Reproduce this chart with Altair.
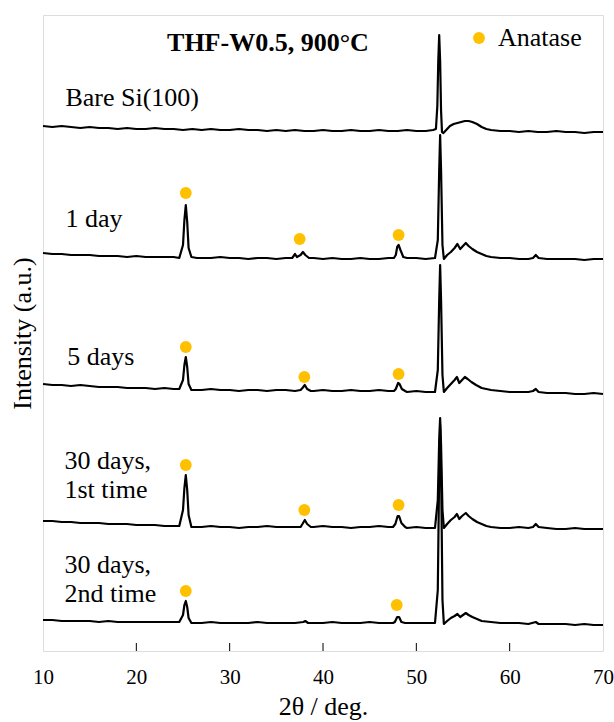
import altair as alt
import pandas as pd

# ---- traces: 2theta (deg) and stacked intensity (a.u.) ----
bare_x = [10, 11, 12, 13, 14, 15, 16, 17, 18, 19, 20, 21, 22, 23, 24, 25, 26, 27, 28, 29, 30,
          31, 32, 33, 34, 35, 36, 37, 38, 39, 40, 41, 42, 43, 44, 45, 46, 47, 48, 49, 50, 51,
          51.8, 52.1, 52.25, 52.35, 52.45, 52.55, 52.65, 52.75, 52.9, 53.2, 53.6, 54.0, 54.4,
          54.8, 55.2, 55.6, 56.0, 56.5, 57.0, 57.5, 58, 59, 60, 61, 62, 63, 64, 65, 66, 67, 68, 69, 70]
bare_y = [525, 524, 525, 524, 523, 524, 523, 523, 522, 523, 522, 522, 523, 522, 522, 521, 522, 521,
          522, 521, 521, 522, 521, 521, 520, 521, 520, 521, 520, 520, 521, 520, 520, 521, 520, 520,
          521, 520, 520, 521, 520, 520,
          521, 522, 545, 590, 616, 590, 540, 519, 518, 521, 525, 527, 528,
          529, 530, 530, 529, 527, 524, 522, 521, 520, 520, 519, 520, 519, 519, 520, 519, 519, 518, 519, 519]

day1_x = [10, 11, 12, 13, 14, 15, 16, 17, 18, 19, 20, 21, 22, 23, 24, 24.6, 25.0, 25.15, 25.3, 25.45,
          25.6, 25.9, 26.5, 27, 28, 29, 30, 31, 32, 33, 34, 35, 36, 36.7, 37.0, 37.2, 37.6, 37.85,
          38.1, 38.5, 39, 40, 41, 42, 43, 44, 45, 46, 47, 47.6, 47.8, 47.95, 48.1, 48.3, 48.6, 49,
          50, 51, 52.0, 52.3, 52.45, 52.55, 52.65, 52.8, 52.95, 53.3, 53.7, 54.1, 54.4, 54.7, 55.0,
          55.3, 55.6, 56.0, 56.5, 57, 57.5, 58, 59, 60, 61, 62, 62.5, 62.8, 63.1, 64, 65, 66, 67,
          68, 69, 70]
day1_y = [398, 397, 397, 396, 396, 396, 395, 395, 395, 394, 395, 394, 394, 394, 394, 393, 406, 431,
          446, 429, 403, 394, 393, 393, 393, 394, 393, 393, 392, 393, 393, 392, 393, 393, 397, 394,
          396, 399, 396, 393, 393, 392, 393, 392, 392, 393, 392, 392, 393, 393, 396, 404, 406, 401,
          394, 393, 393, 392, 393, 411, 481, 516, 481, 406, 392, 396, 399, 403, 407, 402, 405, 408,
          405, 402, 399, 397, 395, 394, 393, 393, 392, 392, 393, 396, 393, 392, 392, 392, 392, 391,
          392, 392]

day5_x = [10, 11, 12, 13, 14, 15, 16, 17, 18, 19, 20, 21, 22, 23, 24, 24.6, 25.0, 25.15, 25.3, 25.45,
          25.6, 25.9, 26.5, 27, 28, 29, 30, 31, 32, 33, 34, 35, 36, 37, 37.6, 37.8, 38.05, 38.3, 38.7,
          39, 40, 41, 42, 43, 44, 45, 46, 47, 47.6, 47.8, 48.05, 48.2, 48.45, 48.8, 49, 50, 51, 52,
          52.3, 52.45, 52.55, 52.65, 52.8, 52.95, 53.3, 53.7, 54.1, 54.35, 54.6, 54.9, 55.2, 55.5,
          55.9, 56.4, 57, 57.5, 58, 59, 60, 61, 62, 62.5, 62.8, 63.1, 64, 65, 66, 67, 68, 69, 70]
day5_y = [267, 266, 266, 265, 266, 265, 264, 264, 264, 263, 263, 263, 262, 263, 262, 262, 271, 286,
          294, 284, 267, 261, 261, 261, 262, 261, 261, 260, 261, 261, 260, 261, 261, 260, 261, 263,
          266, 262, 260, 260, 261, 260, 260, 261, 260, 260, 261, 260, 260, 262, 268, 267, 262, 260,
          259, 260, 259, 259, 281, 351, 386, 351, 276, 259, 263, 267, 271, 274, 268, 271, 274, 272,
          269, 266, 263, 262, 261, 260, 259, 259, 259, 260, 262, 259, 258, 258, 258, 257, 257, 258,
          257]

d30a_x = [10, 11, 12, 13, 14, 15, 16, 17, 18, 19, 20, 21, 22, 23, 24, 24.6, 25.0, 25.15, 25.3, 25.45,
          25.6, 25.9, 26.5, 27, 28, 29, 30, 31, 32, 33, 34, 35, 36, 37, 37.6, 37.8, 38.05, 38.3, 38.7,
          39, 40, 41, 42, 43, 44, 45, 46, 47, 47.5, 47.75, 48.0, 48.15, 48.4, 48.8, 49, 50, 51, 52,
          52.3, 52.45, 52.55, 52.65, 52.8, 52.95, 53.3, 53.7, 54.1, 54.35, 54.6, 54.9, 55.3, 55.6,
          56.0, 56.5, 57, 57.5, 58, 59, 60, 61, 62, 62.5, 62.8, 63.1, 64, 65, 66, 67, 68, 69, 70]
d30a_y = [130, 130, 129, 129, 128, 128, 128, 127, 127, 127, 126, 126, 126, 125, 125, 125, 141, 163,
          176, 161, 136, 124, 124, 124, 125, 124, 124, 123, 124, 124, 125, 124, 124, 124, 124, 127,
          131, 127, 124, 124, 125, 124, 124, 123, 124, 124, 125, 124, 124, 127, 135, 135, 128, 124,
          123, 124, 123, 123, 151, 211, 233, 206, 141, 123, 127, 131, 134, 137, 132, 135, 138, 135,
          132, 129, 127, 125, 124, 123, 123, 124, 123, 124, 127, 124, 123, 122, 122, 123, 122, 122,
          122]

d30b_x = [10, 11, 12, 13, 14, 15, 16, 17, 18, 19, 20, 21, 22, 23, 24, 24.6, 25.0, 25.15, 25.3, 25.45,
          25.6, 25.9, 26.5, 27, 28, 29, 30, 31, 32, 33, 34, 35, 36, 37, 37.9, 38.1, 38.4, 39, 40, 41,
          42, 43, 44, 45, 46, 47, 47.5, 47.7, 47.95, 48.15, 48.4, 48.8, 49, 50, 51, 52, 52.3, 52.45,
          52.55, 52.65, 52.8, 52.95, 53.3, 53.7, 54.1, 54.4, 54.7, 55.0, 55.3, 55.6, 56, 56.5, 57,
          58, 59, 60, 61, 62, 62.8, 63.1, 64, 65, 66, 67, 68, 69, 70]
d30b_y = [31, 31, 30, 30, 30, 30, 29, 30, 29, 29, 29, 29, 29, 29, 29, 29, 36, 46, 50, 44, 33, 28, 28,
          28, 29, 28, 28, 28, 28, 29, 28, 28, 28, 28, 29, 30, 28, 28, 28, 29, 28, 28, 28, 29, 28, 28,
          28, 29, 34, 34, 29, 28, 28, 28, 28, 28, 61, 181, 226, 181, 51, 27, 30, 33, 35, 37, 34, 36,
          38, 36, 34, 32, 30, 29, 28, 28, 28, 27, 29, 27, 27, 27, 27, 26, 27, 26, 26]

series_names = ["Bare Si(100)", "1 day", "5 days", "30 days, 1st time", "30 days, 2nd time"]
series_x = [bare_x, day1_x, day5_x, d30a_x, d30b_x]
series_y = [bare_y, day1_y, day5_y, d30a_y, d30b_y]

# ---- anatase markers ----
ana_x = [25.3, 37.5, 48.1, 25.3, 38.0, 48.1, 25.3, 38.0, 48.1, 25.3, 47.9]
ana_y = [458, 412, 416, 304, 274, 277, 186, 141, 146, 60, 46]

# ---- sample labels ----
lab_text = ["Bare Si(100)", "1 day", "5 days", "30 days,", "1st time", "30 days,", "2nd time"]
lab_x = [12.4, 12.4, 12.6, 12.3, 12.3, 12.3, 12.3]
lab_y = [553, 432, 294, 190, 161, 86, 57]

title_text = ["THF-W0.5, 900°C"]
title_x = [34.1]
title_y = [608]

tick_vals = [20, 30, 40, 50, 60]
tick_len = [8, 8, 8, 8, 8]

rows = []
for name, xs, ys in zip(series_names, series_x, series_y):
    for a, b in zip(xs, ys):
        rows.append({"series": name, "x": a, "y": b})
traces = pd.DataFrame(rows)
markers = pd.DataFrame({"x": ana_x, "y": ana_y, "phase": ["Anatase"] * len(ana_x)})
labels = pd.DataFrame({"t": lab_text, "x": lab_x, "y": lab_y})
titled = pd.DataFrame({"t": title_text, "x": title_x, "y": title_y})
ticks = pd.DataFrame({"x": tick_vals, "y0": [0] * len(tick_vals), "y1": tick_len})

FONT = "Liberation Serif"
xs = alt.Scale(domain=[10, 70], nice=False)
ys = alt.Scale(domain=[0, 636], nice=False)

xaxis = alt.Axis(values=[10, 20, 30, 40, 50, 60, 70], ticks=False, domain=False, grid=False,
                 labelFont=FONT, labelFontSize=21, labelColor="black", labelPadding=15,
                 title="2θ / deg.", titleFont=FONT, titleFontSize=26, titleFontWeight="normal",
                 titleColor="black", titlePadding=6, labelFlush=False)
yaxis = alt.Axis(labels=False, ticks=False, domain=False, grid=False,
                 title="Intensity (a.u.)", titleFont=FONT, titleFontSize=26,
                 titleFontWeight="normal", titleColor="black", titlePadding=8)

lines = alt.Chart(traces).mark_line(color="black", strokeWidth=2.2, strokeJoin="round").encode(
    x=alt.X("x:Q", scale=xs, axis=xaxis),
    y=alt.Y("y:Q", scale=ys, axis=yaxis),
    detail="series:N",
    order="x:Q",
)

dots = alt.Chart(markers).mark_point(filled=True, shape="circle", size=140, opacity=1).encode(
    x="x:Q", y="y:Q",
    color=alt.Color("phase:N", scale=alt.Scale(domain=["Anatase"], range=["#FFC000"]),
                    legend=alt.Legend(title=None, orient="none", legendX=423, legendY=10,
                                      labelFont=FONT, labelFontSize=26, labelColor="black",
                                      symbolSize=140, symbolType="circle", labelOffset=6,
                                      padding=0, symbolStrokeWidth=0)),
)

txt = alt.Chart(labels).mark_text(font=FONT, fontSize=26, align="left", baseline="middle",
                                  color="black").encode(x="x:Q", y="y:Q", text="t:N")

ttl = alt.Chart(titled).mark_text(font=FONT, fontSize=26, fontWeight="bold", align="center",
                                  baseline="middle", color="black").encode(x="x:Q", y="y:Q", text="t:N")

tk = alt.Chart(ticks).mark_rule(color="black", strokeWidth=1).encode(
    x="x:Q", y="y0:Q", y2="y1:Q")

chart = alt.layer(lines, dots, txt, ttl, tk).properties(
    width=560, height=636,
    padding={"left": 43, "top": 15, "right": 11, "bottom": 71},
    autosize=alt.AutoSizeParams(type="none"),
).configure_view(stroke="black", strokeWidth=1.2).configure(background="white")

chart.save("out.html", embed_options={"renderer": "svg", "actions": False})
